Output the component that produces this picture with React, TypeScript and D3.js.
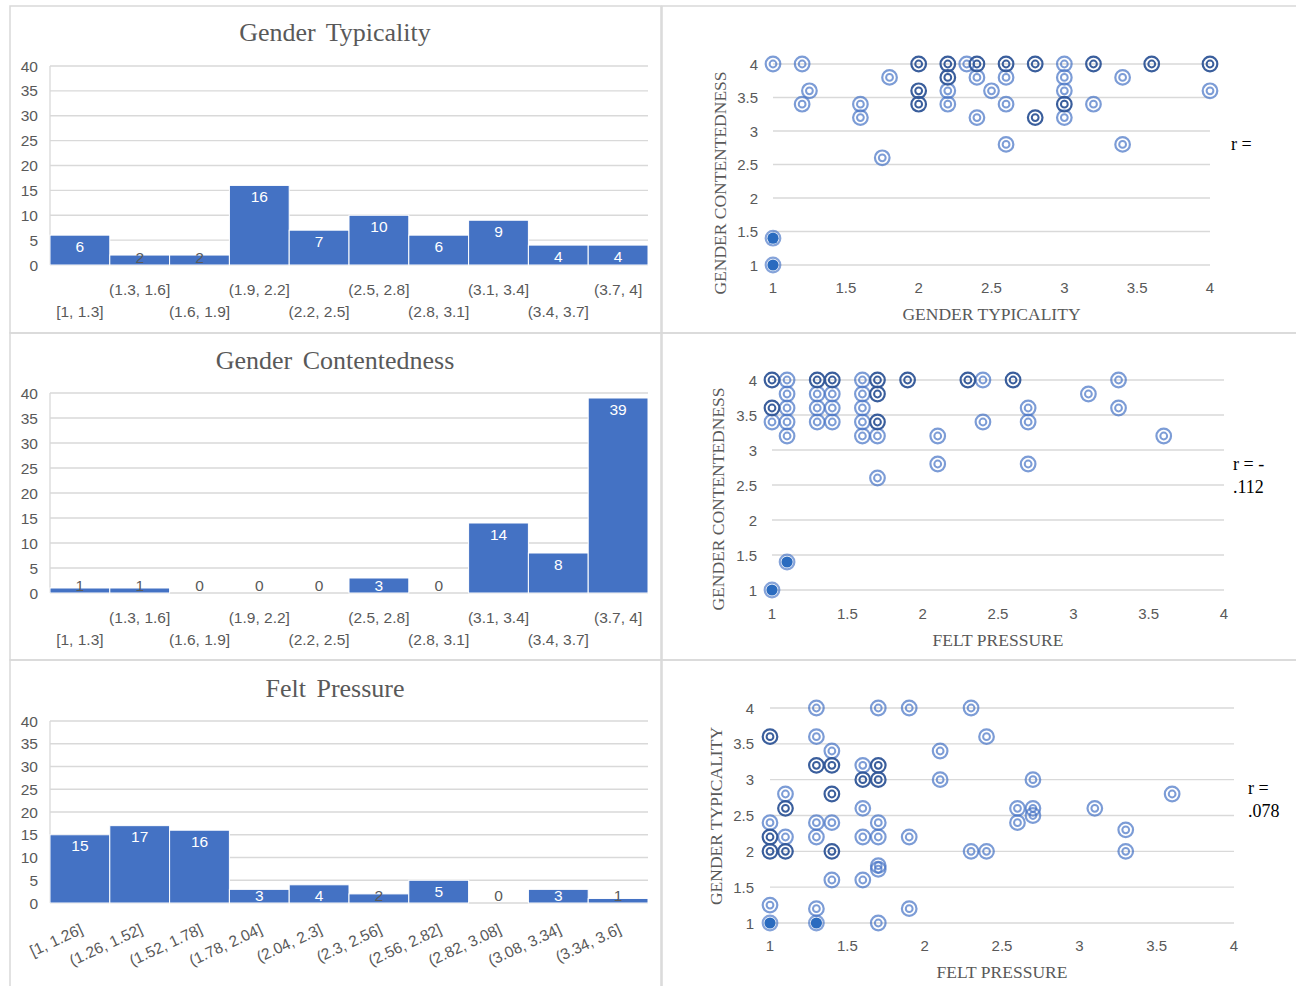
import React from "react";
import * as d3 from "d3";

// ---------- DATA ----------
const typicalityBins = ["[1, 1.3]", "(1.3, 1.6]", "(1.6, 1.9]", "(1.9, 2.2]", "(2.2, 2.5]", "(2.5, 2.8]", "(2.8, 3.1]", "(3.1, 3.4]", "(3.4, 3.7]", "(3.7, 4]"];
const typicalityCounts = [6, 2, 2, 16, 7, 10, 6, 9, 4, 4];
const contentednessBins = typicalityBins;
const contentednessCounts = [1, 1, 0, 0, 0, 3, 0, 14, 8, 39];
const pressureBins = ["[1, 1.26]", "(1.26, 1.52]", "(1.52, 1.78]", "(1.78, 2.04]", "(2.04, 2.3]", "(2.3, 2.56]", "(2.56, 2.82]", "(2.82, 3.08]", "(3.08, 3.34]", "(3.34, 3.6]"];
const pressureCounts = [15, 17, 16, 3, 4, 2, 5, 0, 3, 1];
const histTicks = [0, 5, 10, 15, 20, 25, 30, 35, 40];
const scatterTicks = [1, 1.5, 2, 2.5, 3, 3.5, 4];

// [x, y, overlap]
const typVsCont: [number, number, number][] = [
  [1, 4, 1], [1.2, 4, 1], [1.25, 3.6, 1], [1.2, 3.4, 1], [1.6, 3.4, 1], [1.6, 3.2, 1], [1.8, 3.8, 1], [1.75, 2.6, 1],
  [2, 4, 2], [2, 3.6, 2], [2, 3.4, 2], [2.2, 4, 2], [2.2, 3.8, 2], [2.2, 3.6, 1], [2.2, 3.4, 1], [2.33, 4, 1],
  [2.4, 4, 2], [2.4, 3.8, 1], [2.4, 3.2, 1], [2.5, 3.6, 1], [2.6, 4, 2], [2.6, 3.8, 1], [2.6, 3.4, 1], [2.6, 2.8, 1],
  [2.8, 4, 2], [2.8, 3.2, 2], [3, 4, 1], [3, 3.8, 1], [3, 3.6, 1], [3, 3.4, 2], [3, 3.2, 1], [3.2, 4, 2], [3.2, 3.4, 1],
  [3.4, 3.8, 1], [3.4, 2.8, 1], [3.6, 4, 2], [4, 4, 2], [4, 3.6, 1], [1, 1.4, 3], [1, 1, 3],
];
const pressVsCont: [number, number, number][] = [
  [1, 4, 2], [1.1, 4, 1], [1.1, 3.8, 1], [1, 3.6, 2], [1.1, 3.6, 1], [1, 3.4, 1], [1.1, 3.4, 1], [1.1, 3.2, 1],
  [1.3, 4, 2], [1.4, 4, 2], [1.3, 3.8, 1], [1.4, 3.8, 1], [1.3, 3.6, 1], [1.4, 3.6, 1], [1.3, 3.4, 1], [1.4, 3.4, 1],
  [1.6, 4, 1], [1.7, 4, 2], [1.6, 3.8, 1], [1.7, 3.8, 2], [1.6, 3.6, 1], [1.6, 3.4, 1], [1.7, 3.4, 2], [1.6, 3.2, 1],
  [1.7, 3.2, 1], [1.7, 2.6, 1], [1.9, 4, 2], [2.1, 3.2, 1], [2.1, 2.8, 1], [2.3, 4, 2], [2.4, 4, 1], [2.4, 3.4, 1],
  [2.6, 4, 2], [2.7, 3.6, 1], [2.7, 3.4, 1], [2.7, 2.8, 1], [3.1, 3.8, 1], [3.3, 4, 1], [3.3, 3.6, 1], [3.6, 3.2, 1],
  [1.1, 1.4, 3], [1, 1, 3],
];
const pressVsTyp: [number, number, number][] = [
  [1.3, 4, 1], [1.7, 4, 1], [1.9, 4, 1], [2.3, 4, 1], [1, 3.6, 2], [1.3, 3.6, 1], [2.4, 3.6, 1], [1.4, 3.4, 1],
  [2.1, 3.4, 1], [1.3, 3.2, 2], [1.4, 3.2, 2], [1.6, 3.2, 1], [1.7, 3.2, 2], [1.6, 3, 2], [1.7, 3, 2], [2.1, 3, 1],
  [2.7, 3, 1], [1.1, 2.8, 1], [1.4, 2.8, 2], [3.6, 2.8, 1], [1.1, 2.6, 2], [1.6, 2.6, 1], [2.6, 2.6, 1], [2.7, 2.6, 1],
  [3.1, 2.6, 1], [2.7, 2.5, 1], [1, 2.4, 1], [1.3, 2.4, 1], [1.4, 2.4, 1], [1.7, 2.4, 1], [2.6, 2.4, 1], [3.3, 2.3, 1],
  [1, 2.2, 2], [1.1, 2.2, 1], [1.3, 2.2, 1], [1.6, 2.2, 1], [1.7, 2.2, 1], [1.9, 2.2, 1], [1, 2, 2], [1.1, 2, 2],
  [1.4, 2, 2], [2.3, 2, 1], [2.4, 2, 1], [3.3, 2, 1], [1.7, 1.8, 1], [1.7, 1.75, 1], [1.4, 1.6, 1], [1.6, 1.6, 1],
  [1, 1.25, 1], [1.3, 1.2, 1], [1.9, 1.2, 1], [1.7, 1, 1], [1, 1, 3], [1.3, 1, 3],
];

// ---------- STYLE ----------
const SANS = "'Liberation Sans', Arial, sans-serif";
const SERIF = "'Liberation Serif', 'Times New Roman', serif";
const GRAY = "#595959";
const GRID = "#d9d9d9";
const BAR = "#4472C4";

type HistProps = {
  title: string; labels: string[]; values: number[]; top: number; bottom: number;
  titleY: number; rows?: [number, number]; rotated?: boolean;
};

function Histogram({ title, labels, values, top, bottom, titleY, rows, rotated }: HistProps) {
  const x = d3.scaleBand<string>().domain(labels).range([50, 648]).padding(0);
  const y = d3.scaleLinear().domain([0, 40]).range([bottom, top]);
  const zeroY = y(0);
  return (
    <g>
      <text x={335} y={titleY} textAnchor="middle" fontFamily={SERIF} fontSize={26} fill={GRAY} wordSpacing={4}>{title}</text>
      {histTicks.map((t) => (
        <g key={t}>
          <line x1={50} x2={648} y1={y(t)} y2={y(t)} stroke={GRID} strokeWidth={1.3} />
          <text x={38} y={y(t) + 5.5} textAnchor="end" fontFamily={SANS} fontSize={15.5} fill={GRAY}>{t}</text>
        </g>
      ))}
      <line x1={50} x2={50} y1={top} y2={bottom} stroke={GRID} strokeWidth={1.3} />
      {values.map((v, i) => (
        <rect key={i} x={x(labels[i])!} width={x.bandwidth()} y={y(v)} height={zeroY - y(v)} fill={BAR} stroke="#fff" strokeWidth={1} />
      ))}
      {values.map((v, i) => {
        const ly = Math.min(y(v) + 11, zeroY - 8);
        return (
          <text key={i} x={x(labels[i])! + x.bandwidth() / 2} y={ly + 5.5} textAnchor="middle" fontFamily={SANS} fontSize={15.5}
            fill={v >= 3 ? "#fff" : GRAY}>{v}</text>
        );
      })}
      {labels.map((l, i) => {
        const cx = x(l)! + x.bandwidth() / 2;
        if (rotated) {
          const ax = cx + 4, ay = bottom + 30;
          return (
            <text key={l} x={ax} y={ay} textAnchor="end" transform={`rotate(-25 ${ax} ${ay})`} fontFamily={SANS} fontSize={15.5} fill={GRAY}>{l}</text>
          );
        }
        const ry = i % 2 === 1 ? rows![0] : rows![1];
        return <text key={l} x={cx} y={ry + 5.5} textAnchor="middle" fontFamily={SANS} fontSize={15.5} fill={GRAY}>{l}</text>;
      })}
    </g>
  );
}

type ScatterProps = {
  data: [number, number, number][]; xl: number; xr: number; yt: number; yb: number;
  tickLabelX: number; xTickY: number; xTitle: string; xTitleY: number; yTitle: string; yTitleX: number; yTitleY: number;
  rText: string[]; rX: number; rY: number;
};

function Marker({ cx, cy, n }: { cx: number; cy: number; n: number }) {
  if (n >= 3) {
    return (
      <g>
        <circle cx={cx} cy={cy} r={7.3} fill="none" stroke={BAR} strokeOpacity={0.65} strokeWidth={2.2} />
        <circle cx={cx} cy={cy} r={5.6} fill="#2A6BBF" />
      </g>
    );
  }
  const col = n === 2 ? "#2F5597" : BAR;
  const op = n === 2 ? 0.95 : 0.7;
  return (
    <g>
      <circle cx={cx} cy={cy} r={7.3} fill="none" stroke={col} strokeOpacity={op} strokeWidth={2.2} />
      <circle cx={cx} cy={cy} r={3.4} fill="none" stroke={col} strokeOpacity={op} strokeWidth={2} />
    </g>
  );
}

function Scatter(p: ScatterProps) {
  const x = d3.scaleLinear().domain([1, 4]).range([p.xl, p.xr]);
  const y = d3.scaleLinear().domain([1, 4]).range([p.yb, p.yt]);
  const sorted = [...p.data].sort((a, b) => a[2] - b[2]);
  return (
    <g>
      {scatterTicks.map((t) => (
        <g key={t}>
          <line x1={p.xl} x2={p.xr} y1={y(t)} y2={y(t)} stroke={GRID} strokeWidth={1.3} />
          <text x={p.tickLabelX} y={y(t) + 5.5} textAnchor="end" fontFamily={SANS} fontSize={15} fill={GRAY}>{t}</text>
          <text x={x(t)} y={p.xTickY + 5.5} textAnchor="middle" fontFamily={SANS} fontSize={15} fill={GRAY}>{t}</text>
        </g>
      ))}
      {sorted.map((d, i) => <Marker key={i} cx={x(d[0])} cy={y(d[1])} n={d[2]} />)}
      <text x={(p.xl + p.xr) / 2} y={p.xTitleY + 5.5} textAnchor="middle" fontFamily={SERIF} fontSize={17.5} fill={GRAY}>{p.xTitle}</text>
      <text x={p.yTitleX} y={p.yTitleY} textAnchor="middle" transform={`rotate(-90 ${p.yTitleX} ${p.yTitleY})`} dy={5.5} fontFamily={SERIF} fontSize={17.5} fill={GRAY}>{p.yTitle}</text>
      {p.rText.map((t, i) => (
        <text key={i} x={p.rX} y={p.rY + i * 23 + 6} fontFamily={SERIF} fontSize={18} fill="#000">{t}</text>
      ))}
    </g>
  );
}

export default function App() {
  return (
    <svg width={1296} height={986} style={{ position: "absolute", left: 0, top: 0, background: "#fff" }}>
      <rect x={0} y={0} width={1296} height={986} fill="#fff" />
      {[6, 333, 660].map((t, i) => (
        <g key={t}>
          <rect x={10} y={t} width={651} height={i === 2 ? 330 : 327} fill="none" stroke={GRID} strokeWidth={1.5} />
          <rect x={662} y={t} width={640} height={i === 2 ? 330 : 327} fill="none" stroke={GRID} strokeWidth={1.5} />
        </g>
      ))}
      <Histogram title="Gender Typicality" labels={typicalityBins} values={typicalityCounts} top={66} bottom={265} titleY={41} rows={[289, 311]} />
      <Histogram title="Gender Contentedness" labels={contentednessBins} values={contentednessCounts} top={393} bottom={593} titleY={369} rows={[617, 639]} />
      <Histogram title="Felt Pressure" labels={pressureBins} values={pressureCounts} top={721} bottom={903} titleY={697} rotated />
      <Scatter data={typVsCont} xl={773} xr={1210} yt={64} yb={265} tickLabelX={758} xTickY={287}
        xTitle="GENDER TYPICALITY" xTitleY={314} yTitle="GENDER CONTENTEDNESS" yTitleX={720} yTitleY={183} rText={["r ="]} rX={1231} rY={144} />
      <Scatter data={pressVsCont} xl={772} xr={1224} yt={380} yb={590} tickLabelX={757} xTickY={613}
        xTitle="FELT PRESSURE" xTitleY={640} yTitle="GENDER CONTENTEDNESS" yTitleX={718} yTitleY={499} rText={["r = -", ".112"]} rX={1233} rY={464} />
      <Scatter data={pressVsTyp} xl={770} xr={1234} yt={708} yb={923} tickLabelX={754} xTickY={945}
        xTitle="FELT PRESSURE" xTitleY={972} yTitle="GENDER TYPICALITY" yTitleX={716} yTitleY={816} rText={["r =", ".078"]} rX={1248} rY={788} />
    </svg>
  );
}
